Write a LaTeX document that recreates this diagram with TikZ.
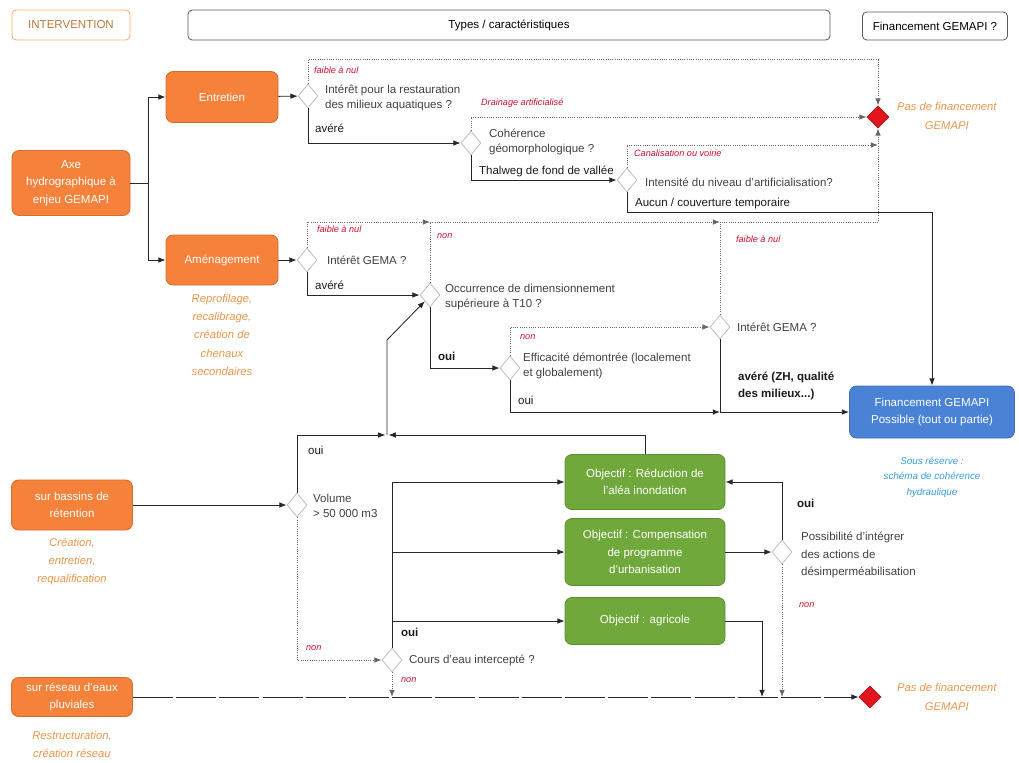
\documentclass[tikz,border=0pt]{standalone}
\usepackage{fontspec}
\setmainfont{Liberation Sans}
\usetikzlibrary{arrows.meta,shapes.geometric,positioning}
\definecolor{gemaorange}{HTML}{F5813A}
\definecolor{gemagreen}{HTML}{70A83B}
\definecolor{gemablue}{HTML}{4A82D6}
\definecolor{gemared}{HTML}{E3151C}
\definecolor{gemacrimson}{HTML}{C8102E}
\definecolor{gemacaption}{HTML}{E8954A}
\definecolor{gemasky}{HTML}{3A9AD9}
\begin{document}
\begin{tikzpicture}[x=0.25mm, y=-0.25mm, line width=0.6pt,
  every node/.style={font=\fontsize{8.2}{10.7}\selectfont},
  headbox/.style={draw=black!65, rounded corners=3pt, minimum height=7.5mm},
  actbox/.style={fill=gemaorange, draw=gemaorange!85!black, rounded corners=5pt, text=white, align=center, font=\fontsize{8.2}{12.5}\selectfont},
  objbox/.style={fill=gemagreen, draw=gemagreen!85!black, rounded corners=5pt, text=white, align=center, minimum width=40mm, font=\fontsize{8.2}{12.5}\selectfont},
  decision/.style={diamond, draw=black!25, fill=white, inner sep=0pt, minimum width=5mm, minimum height=6mm},
  stopmark/.style={diamond, fill=gemared, draw=gemared!80!black, inner sep=0pt, minimum size=5.5mm},
  question/.style={anchor=west, align=left, text=black!75},
  answer/.style={anchor=west, align=left, text=black!90},
  refusal/.style={anchor=west, text=gemacrimson, font=\fontsize{6.5}{8}\selectfont\itshape},
  remark/.style={align=center, text=gemacaption, font=\fontsize{8}{13}\selectfont\itshape},
  flow/.style={-{Latex[length=1.8mm,width=1.4mm]}, draw=black!85},
  weak/.style={flow, densely dotted, draw=black!60}]
\useasboundingbox (0,0) rectangle (1019,762);

\node[headbox, draw=gemaorange!70, text=gemacaption!80!black, minimum width=29.5mm] (hint) at (71,25) {INTERVENTION};
\node[headbox, minimum width=160.5mm] (htype) at (509,25) {Types / caractéristiques};
\node[headbox, minimum width=36.25mm, minimum height=7mm] (hfin) at (935,26) {Financement GEMAPI ?};

\node[actbox, minimum width=29.5mm, minimum height=16.25mm] (axe) at (71,183) {Axe\\hydrographique à\\enjeu GEMAPI};
\node[actbox, minimum width=28mm, minimum height=12.75mm] (ent) at (222,97) {Entretien};
\node[actbox, minimum width=28mm, minimum height=12.5mm] (ame) at (222,260) {Aménagement};
\node[actbox, minimum width=30.25mm, minimum height=12.5mm] (bas) at (72,505) {sur bassins de\\rétention};
\node[actbox, minimum width=30.25mm, minimum height=9.75mm] (res) at (72,697) {sur réseau d'eaux\\pluviales};
\node[remark, anchor=north] at (222,289) {Reprofilage,\\recalibrage,\\création de\\chenaux\\secondaires};
\node[remark, anchor=north] at (72,533) {Création,\\entretien,\\requalification};
\node[remark, anchor=north] at (72,726) {Restructuration,\\création réseau};

\node[objbox, minimum height=13.75mm] (g1) at (645,482) {Objectif : Réduction de\\l'aléa inondation};
\node[objbox, minimum height=16.75mm] (g2) at (645,552) {Objectif : Compensation\\de programme\\d'urbanisation};
\node[objbox, minimum height=11.75mm] (g3) at (645,621) {Objectif : agricole};
\node[fill=gemablue, draw=gemablue!85!black, rounded corners=5pt, text=white, align=center, minimum width=41.25mm, minimum height=13mm, font=\fontsize{8.2}{12.5}\selectfont] (fin) at (932,412) {Financement GEMAPI\\Possible (tout ou partie)};
\node[remark, text=gemasky, font=\fontsize{7}{11}\selectfont\itshape, anchor=north] at (932,452) {Sous réserve :\\schéma de cohérence\\hydraulique};

\node[decision] (d1) at (308,96) {};
\node[decision] (d2) at (471,143) {};
\node[decision] (d3) at (627,180) {};
\node[decision] (d4) at (307,260) {};
\node[decision] (d5) at (430,295) {};
\node[decision] (d6) at (720,327) {};
\node[decision] (d7) at (510,368) {};
\node[decision] (d8) at (297,505) {};
\node[decision] (d9) at (392,660) {};
\node[decision] (d10) at (782,552) {};
\node[stopmark] (stop1) at (878,117) {};
\node[stopmark] (stop2) at (870,697) {};
\node[remark, anchor=west] at (892,116) {Pas de financement\\GEMAPI};
\node[remark, anchor=west] at (892,697) {Pas de financement\\GEMAPI};

\node[refusal] at (309,70) {faible à nul};
\node[question] at (320,98) {Intérêt pour la restauration\\des milieux aquatiques ?};
\node[answer] at (310,128) {avéré};
\node[refusal] at (476,103) {Drainage artificialisé};
\node[question] at (484,142) {Cohérence\\géomorphologique ?};
\node[answer] at (474,171) {Thalweg de fond de vallée};
\node[refusal] at (629,153) {Canalisation ou voirie};
\node[question] at (640,182) {Intensité du niveau d'artificialisation?};
\node[answer] at (630,204) {Aucun / couverture temporaire};
\node[refusal] at (312,229) {faible à nul};
\node[question] at (322,260) {Intérêt GEMA ?};
\node[answer] at (310,285) {avéré};
\node[refusal] at (432,236) {non};
\node[question] at (440,297) {Occurrence de dimensionnement\\supérieure à T10 ?};
\node[answer, font=\fontsize{8.2}{10.7}\selectfont\bfseries] at (433,356) {oui};
\node[refusal] at (515,337) {non};
\node[question] at (518,366) {Efficacité démontrée (localement\\et globalement)};
\node[answer] at (513,400) {oui};
\node[refusal] at (731,239) {faible à nul};
\node[question] at (732,327) {Intérêt GEMA ?};
\node[answer, font=\fontsize{8.2}{12}\selectfont\bfseries] at (733,386) {avéré (ZH, qualité\\des milieux...)};
\node[answer] at (303,450) {oui};
\node[question] at (308,506) {Volume\\> 50 000 m3};
\node[refusal] at (301,648) {non};
\node[answer, font=\fontsize{8.2}{10.7}\selectfont\bfseries] at (396,632) {oui};
\node[question] at (404,660) {Cours d'eau intercepté ?};
\node[refusal] at (396,680) {non};
\node[answer, font=\fontsize{8.2}{10.7}\selectfont\bfseries] at (792,503) {oui};
\node[question, font=\fontsize{8.2}{12.5}\selectfont] at (796,555) {Possibilité d'intégrer\\des actions de\\désimperméabilisation};
\node[refusal] at (794,605) {non};

\coordinate (k1) at (878,145);
\coordinate (k2) at (878,222);
\coordinate (k5) at (387,435);
\coordinate (k6) at (387,340);
\coordinate (g3drop) at (762,697);

\draw[flow] (axe.east) -- ++(18,0) |- (ent.west);
\draw[flow] (axe.east) -- ++(18,0) |- (ame.west);
\draw[flow] (ent) -- (d1);
\draw[flow] (ame) -- (d4);
\draw[flow] (bas) -- (d8);
\draw[flow] (d1.south) |- (d2.west);
\draw[flow] (d2.south) |- (d3.west);
\draw[flow] (d3.south) -- ++(0,20) -| (fin.north);
\draw[weak] (d1.north) -- ++(0,-24) -| (stop1.north);
\draw[weak] (d2.north) |- (stop1.west);
\draw[weak] (d3.north) |- (k1);
\draw[flow] (d4.south) |- (d5.west);
\draw[weak] (d4.north) |- (d5.north |- k2);
\draw[weak] (d5.north) |- (d6.north |- k2);
\draw[weak] (d6.north) |- (k2) -- (stop1.south);
\draw[flow] (d5.south) |- (d7.west);
\draw[weak] (d7.north) |- (d6.west);
\draw[flow] (d7.south) |- (d6.south |- fin.west);
\draw[flow] (d6.south) |- (fin.west);
\draw[flow] (k5) -- (k6) -- (d5.south west);
\draw[flow] (d8.north) |- ([xshift=-0.4mm]k5);
\draw[flow] (g1.north) |- ([xshift=0.4mm]k5);
\draw[weak] (d8.south) |- (d9.west);
\draw[flow] (d9.north) |- (g1.west);
\draw[flow] (d9.north) |- (g2.west);
\draw[flow] (d9.north) |- (g3.west);
\draw[weak] (d9.south) -- (d9.south |- res.east);
\draw[flow, dash pattern=on 10mm off 0.8mm] (res.east) -- (stop2.west);
\draw[flow] (g2.east) -- (d10.west);
\draw[flow] (d10.north) |- (g1.east);
\draw[weak] (d10.south) -- (d10.south |- stop2.west);
\draw[flow] (g3.east) -| (g3drop);
\end{tikzpicture}
\end{document}
